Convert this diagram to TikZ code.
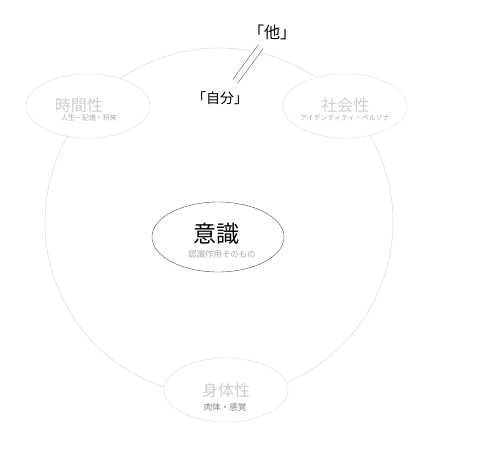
\documentclass[tikz,border=0pt]{standalone}
\usepackage{fontspec}
\setmainfont{Noto Sans CJK JP}
\usetikzlibrary{shapes.geometric}
\definecolor{ringgray}{HTML}{DDDDDD}
\definecolor{titlegray}{HTML}{CFCFCF}
\definecolor{subgray}{HTML}{A8A8A8}
\tikzset{
  aspect/.style={draw=ringgray,fill=white,ellipse,minimum width=124pt,minimum height=64pt,inner sep=0pt},
  aspecttitle/.style={text=titlegray,font=\fontsize{16}{16}\selectfont,inner sep=0pt},
  aspectsub/.style={text=subgray,font=\fontsize{7}{7}\selectfont,inner sep=0pt},
  wordlabel/.style={text=black,inner sep=0pt}
}
\begin{document}
\begin{tikzpicture}[x=1pt,y=-1pt]
\useasboundingbox (0,0) rectangle (480,455);
\draw[ringgray,line width=0.6pt] (219,222) circle[radius=174pt];
% three aspects on the ring
\node[aspect] (jikan) at (88,106) {};
\node[aspecttitle] (jikantitle) at (79,105) {時間性};
\node[aspectsub] (jikansub) at (89,118) {人生・記憶・将来};
\node[aspect] (shakai) at (345,106) {};
\node[aspecttitle] (shakaititle) at (345,105) {社会性};
\node[aspectsub] (shakaisub) at (345,118) {アイデンティティ・ペルソナ};
\node[aspect] (shintai) at (226,390) {};
\node[aspecttitle] (shintaititle) at (226,390) {身体性};
\node[aspectsub,text=gray,font=\fontsize{8.5}{8.5}\selectfont] (shintaisub) at (225,407) {肉体・感覚};
% centre
\node[draw=black!70,fill=white,ellipse,minimum width=132pt,minimum height=70pt,inner sep=0pt] (ishiki) at (218,237) {};
\node[wordlabel,font=\fontsize{23}{23}\selectfont] (ishikititle) at (216,234) {意識};
\node[aspectsub,font=\fontsize{8.4}{8.4}\selectfont] (ishikisub) at (222,254) {認識作用そのもの};
% self and other
\node[wordlabel,font=\fontsize{16}{16}\selectfont] (ta) at (272,32) {「他」};
\node[wordlabel,font=\fontsize{14}{14}\selectfont] (jibun) at (220,98) {「自分」};
\coordinate (jibunend) at (235.5,81);
\coordinate (taend) at (260.5,47);
\draw[black!70,line width=0.5pt,double=white,double distance=5.6pt] (jibunend) -- (taend);
\end{tikzpicture}
\end{document}
